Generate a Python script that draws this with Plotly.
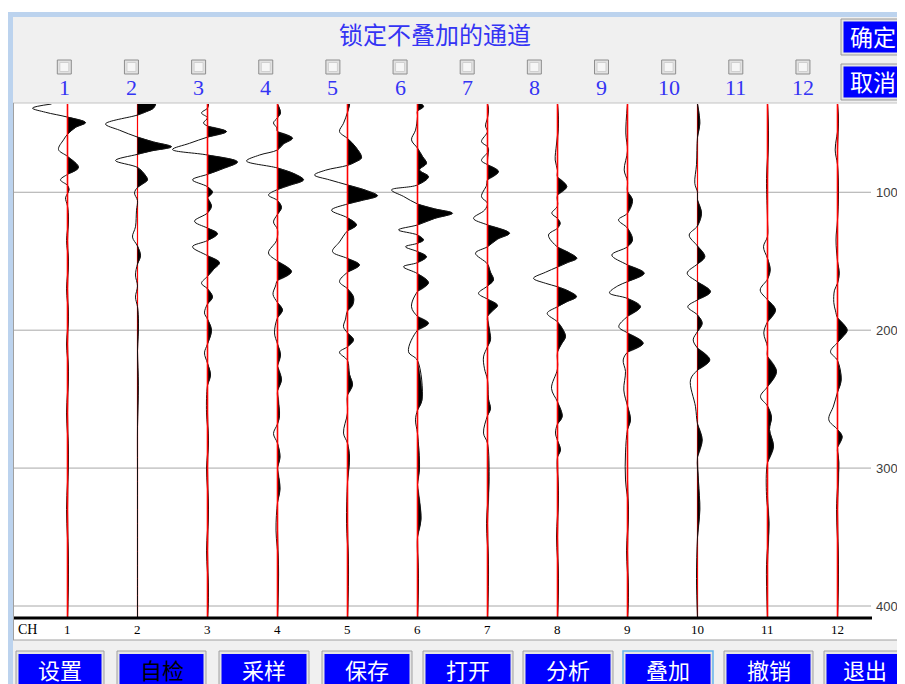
import plotly.graph_objects as go

# ---------------- data ----------------
channels = list(range(1, 13))
channel_labels = [str(c) for c in channels]
checkbox_labels = [str(c) for c in channels]
time_ticks = [100, 200, 300, 400]
title_text = "锁定不叠加的通道"
side_buttons = ["确定", "取消"]
bottom_buttons = ["设置", "自检", "采样", "保存", "打开", "分析", "叠加", "撤销", "退出"]

# time (ms) and amplitude (deflection units) key points per channel
ch1_t = [36, 39, 42, 45.5, 49.5, 53, 58, 62, 69, 74, 82, 87, 91, 95, 98, 101, 104, 110, 120, 135, 150, 170, 190, 210, 230, 260, 290, 330, 370, 409]
ch1_a = [-16, -35, -22, 0, 18, 8, 0, -4, -9, 0, 11, 0, -7, 0, 1.5, 0, -2, 0, 1, -1, 1, -1, 1, -1, 1, -1, 1, -1, 1, 0]

ch2_t = [36, 39, 41.5, 44, 50.5, 55, 60, 63.5, 67, 70, 72.5, 77, 82, 86, 91, 94, 96.5, 100.5, 106, 113, 125, 132.5, 139, 146, 152, 160, 168, 176, 183, 195, 215, 240, 270, 300, 340, 380, 409]
ch2_a = [18, 16, 9, 0, -32, -18, 0, 16, 34, 14, 0, -22, 0, 6, 10, 5, 0, -3, 0, -1, -2, -5, 0, 3, 0, -2, 0, -2, 0, 1, 0, 0.8, 0, 0, 0, 0, 0]

ch3_t = [36, 39, 42.5, 46, 49.7, 52, 56, 60, 64.5, 69, 73, 78, 83, 87, 91, 96, 100, 104, 110, 115, 121, 126, 130, 135, 139.5, 146, 151, 156, 161, 166, 170, 176, 181, 187.5, 192, 200, 210, 216.5, 224, 232.5, 240, 260, 280, 300, 330, 360, 390, 409]
ch3_a = [1, 0, -6, 0, -4, 0, 19, 0, -18, -35, 0, 30, 15, 0, -15, 0, 5, 0, 4, 0, -13, 0, 10, 0, -15, 0, 12, 6, 0, -6, 0, 5, 0, -3, 0, 4, 0, -3, 0, 3, 0, -1, 1, -1, 1, -1, 1, 0]

ch4_t = [36, 42.5, 46, 49.7, 53, 56, 60.8, 65, 69.3, 73, 77.3, 82.4, 87, 91, 95, 98, 102, 106, 111, 116, 121.5, 127, 135, 144, 150, 157.6, 164, 168, 174, 180, 185.4, 191, 202, 210, 218, 226, 236, 244, 262, 268, 275, 282, 292, 300, 315, 325, 345, 370, 409]
ch4_a = [0, 3, 0, -4, -1, 0, 15, 6, 0, -18, -31, 0, 18, 26, 12, 0, -9, 0, 4, 0, -4, 0, -1, -9, 0, 14, 0, -2, -4.5, 0, 5, 0, -3, 0, 3, 0, 4, 0, 2, 0, -4, 0, 2.5, 0, 2.5, 0, -1.5, 1, 0]

ch5_t = [36, 42, 50, 56, 61, 67, 75, 78, 80.5, 84, 87.5, 91, 94.7, 99, 102.5, 106, 108.5, 113, 118.5, 123.7, 128, 136, 143, 148, 152.7, 158, 164.8, 170, 176, 182, 186, 192, 197.5, 202, 207, 212, 216, 222, 232, 239.7, 247, 260, 274.6, 282, 292, 310, 340, 370, 409]
ch5_a = [2, 0, -4, -8, 0, 8, 14, 8, 0, -22, -33, -18, 0, 20, 30, 14, 0, -16, 0, 9, 0, -8, -15, 0, 12, 0, -8, 0, 6, 5, 0, -2, -4, 0, 6, 0, -8, 0, 2, 5, 0, 0, -4, 0, 2, 0, -1, 1, 0]

ch6_t = [36, 38, 41, 45, 55, 62, 68, 74, 79, 83.8, 88.7, 94.7, 98.3, 103, 108.5, 112, 115.2, 119, 123.7, 127.3, 131, 134.6, 137, 139.5, 143, 146.7, 151, 154, 159, 165.6, 172, 183, 190, 195, 200, 215.6, 222, 250.6, 258, 265, 275, 300, 312, 337, 350, 380, 409]
ch6_a = [4, 6, 0, 0, -2, -6, 0, 5, 9, 2, 11, 0, -26, -14, 0, 17, 35, 17, 0, -19, 0, 6, 0, -12, 0, 9, 0, -14, 0, 11, 0, -6, 0, 11, 0, -9, 0, 4.5, 0, -2, 0, 2, 0, 3.5, 0, 1, 0]

ch7_t = [36, 40, 46, 52, 56, 63.3, 67, 70, 77, 80, 85, 91, 95, 103.2, 108, 113, 118.9, 123.7, 129.7, 134, 139.5, 144.2, 152, 158, 163.6, 168, 173.3, 177.5, 182, 186, 190, 200, 207, 212, 219.4, 228, 236, 250, 257, 262, 274.6, 282, 310, 340, 370, 409]
ch7_a = [0, 1, 0, -2, 0, -6, 0, 1, -6, 0, 11, 0, -1, -6, 0, -3, -14, 0, 22, 10, 0, -12, 0, 3, 6, 0, -9, 0, 10, 5, 0, 2, 3, 0, -4, -3, 0, 1, 3, 0, -4, 0, 1.5, -1, 1, 0]

ch8_t = [36, 50, 65, 76.6, 84, 89, 95.9, 102, 110, 115.2, 119, 122.5, 126, 131, 139.7, 144, 147.9, 151, 154.2, 158, 162.4, 166, 168.5, 172, 175.7, 179.5, 183, 187.8, 194, 199, 204.7, 210, 215.8, 228, 242.2, 252, 262.7, 268, 274.6, 280, 286.9, 292, 320, 350, 380, 409]
ch8_a = [0, 1, -1, -2.3, 0, 0, 9.3, 0, 0, -5.7, 0, 2.7, 0, -9, 0, 12, 19.3, 10, 0, -12, -24, -12, 0, 12, 19, 9, 0, -10.3, 0, 5, 8, 4, 0, 0, -6, 0, 4.7, 0, -2, 0, 3, 0, 1, -1, 1, 0]

ch9_t = [36, 57, 70, 83.8, 92, 99.6, 105.6, 115.2, 120, 126, 134.6, 139.5, 145.5, 152.7, 158.7, 164.8, 168, 173, 177, 183, 190, 197.5, 202, 209.5, 216, 221.6, 230, 243.4, 255, 265.1, 272, 289, 308.6, 330, 360, 390, 409]
ch9_a = [0, -1.7, 0, -3.3, 0, 0, 5, 0, -9, 0, 5, 0, -15.7, 0, 16.7, 0, -10, -18, 0, 13, 0, -8.7, 0, 15.7, 0, -4.3, -2, -3.7, 0, 3, 0, -2, -2, 1, -1, 1, 0]

ch10_t = [36, 50, 60, 80, 93.5, 100, 105.6, 115.2, 124.4, 131, 139, 146.7, 152, 158.7, 165, 172.1, 178, 183, 189, 195, 201, 207, 213, 221.6, 229, 236, 255.5, 268, 279.6, 292, 310, 330, 350, 380, 409]
ch10_a = [0, 2.3, 0, -1, -2.7, 0, 0, 4, 0, -8.3, 0, 7.3, 0, -10.3, 0, 13, 0, -9.7, 0, 4.7, 0, -4.3, 0, 12.3, 0, -7, -2, 0, 4.7, 0, 1, 2.3, 0, -1, 0]

ch11_t = [36, 60, 90, 120, 132, 139.5, 148, 156.3, 163, 170.9, 178, 185.4, 194, 202, 212, 219, 230, 241, 248.2, 255, 263, 272, 284.5, 296, 320, 340, 370, 409]
ch11_a = [0, 1, -1, 0, 0, -4, 0, 2.7, 0, -7.3, 0, 8, 0, -3.7, 0, 0, 9, 0, -7, 0, 4, 2, 6, 0, -1, 1.5, -1, 0]

ch12_t = [36, 50, 69.3, 80, 100, 120, 134.6, 150, 158.7, 166, 171, 180, 186, 191, 199.9, 205, 209, 215.6, 222, 236, 245, 255, 265, 272, 277.2, 285, 296, 330, 370, 409]
ch12_a = [0, 1, -2.3, 0, 1, 0, -1.5, 0, 1.7, 0, -3, -3.7, -2, 0, 9.7, 5, 0, -7, 0, 3.7, 0, -4, -8.7, 0, 4.7, 0, 1.3, -1, 1, 0]

trace_times = [ch1_t, ch2_t, ch3_t, ch4_t, ch5_t, ch6_t, ch7_t, ch8_t, ch9_t, ch10_t, ch11_t, ch12_t]
trace_amps = [ch1_a, ch2_a, ch3_a, ch4_a, ch5_a, ch6_a, ch7_a, ch8_a, ch9_a, ch10_a, ch11_a, ch12_a]

# ---------------- geometry / style ----------------
# the page body has an 8px margin, so the figure is placed at (8, 8) in the window
OFF = 8
W, H = 905 - OFF, 684 - OFF
def px(x):
    return (x - OFF) / W
def py(y):
    return 1 - (y - OFF) / H

CH1_X = 67.5          # pixel-centred so the reference lines are crisp
CH_SPACING = 70.0
def ch_at(xp):
    return 1 + (xp - CH1_X) / CH_SPACING

T_TOP, T_BOTTOM = 36.0, 408.7
AMP_GAIN = 1 / 70.0
BLUE_TXT = "#3434F4"
BTN_BLUE = "#0000FF"
CJK = "Noto Sans CJK SC"
SERIF = "Liberation Serif"
RED = "#FF0000"
RED_UNDER = {2, 10}   # channels whose trace hides the reference line

fig = go.Figure()

def red_line(ch, width):
    fig.add_trace(go.Scatter(x=[ch, ch], y=[T_TOP, T_BOTTOM], mode="lines",
                             line=dict(color=RED, width=width),
                             hoverinfo="skip", showlegend=False))

for ch in channels:
    if ch in RED_UNDER:
        red_line(ch, 1.2)

# wiggle traces with positive lobes filled
for ch, tt, aa in zip(channels, trace_times, trace_amps):
    n = len(tt)
    fx, fy = [], []
    i = 0
    while i < n:
        if aa[i] > 0:
            j = i
            while j + 1 < n and aa[j + 1] > 0:
                j += 1
            idx = list(range(max(i - 1, 0), min(j + 1, n - 1) + 1))
            sx = [ch + AMP_GAIN * max(aa[k], 0) for k in idx]
            sy = [tt[k] for k in idx]
            if i == 0:
                sx.insert(0, ch); sy.insert(0, tt[0])
            if j == n - 1:
                sx.append(ch); sy.append(tt[-1])
            fx += sx + [None]
            fy += sy + [None]
            i = j + 1
        else:
            i += 1
    fig.add_trace(go.Scatter(x=fx, y=fy, mode="lines", fill="toself",
                             fillcolor="black",
                             line=dict(color="black", width=0.5, shape="spline"),
                             hoverinfo="skip", showlegend=False))
    fig.add_trace(go.Scatter(x=[ch + AMP_GAIN * a for a in aa], y=tt, mode="lines",
                             line=dict(color="#111111", width=1.0, shape="spline"),
                             hoverinfo="skip", showlegend=False))

for ch in channels:
    if ch not in RED_UNDER:
        red_line(ch, 1.6)

shapes = []
annotations = []

def rect(x0, y0, x1, y1, fill, line_color=None, lw=0, layer="below"):
    shapes.append(dict(type="rect", xref="paper", yref="paper",
                       x0=px(x0), x1=px(x1), y0=py(y1), y1=py(y0),
                       fillcolor=fill,
                       line=dict(color=line_color or fill, width=lw),
                       layer=layer))

def hline(x0, x1, y, color, lw=1, layer="below"):
    shapes.append(dict(type="line", xref="paper", yref="paper",
                       x0=px(x0), x1=px(x1), y0=py(y), y1=py(y),
                       line=dict(color=color, width=lw), layer=layer))

def vline(x, y0, y1, color, lw=1, layer="below"):
    shapes.append(dict(type="line", xref="paper", yref="paper",
                       x0=px(x), x1=px(x), y0=py(y0), y1=py(y1),
                       line=dict(color=color, width=lw), layer=layer))

def text(x, y, s, size, color, family, xanchor="center"):
    annotations.append(dict(x=px(x), y=py(y), xref="paper", yref="paper",
                            text=s, showarrow=False, xanchor=xanchor, yanchor="middle",
                            font=dict(size=size, color=color, family=family)))

# window frame and panels
rect(8, 12, 906, 686, "#BCD3EE")
rect(13, 17, 906, 686, "#F0F0F0")
rect(14, 103, 906, 640, "#FFFFFF")
hline(13, 906, 103, "#C4C4C4")
vline(13.5, 103, 640, "#A0A0A0")
hline(13, 906, 640, "#A0A0A0")

# time gridlines (data coords)
for tv in time_ticks:
    shapes.append(dict(type="line", xref="paper", yref="y",
                       x0=px(14), x1=px(871), y0=tv, y1=tv,
                       line=dict(color="#A8A8A8", width=1), layer="below"))
    annotations.append(dict(x=px(874), y=tv, xref="paper", yref="y", text=str(tv),
                            showarrow=False, xanchor="left", yanchor="middle",
                            font=dict(size=13, color="#3C3C3C", family="Liberation Sans")))

# thick bottom axis line
hline(14, 872, 618, "#000000", lw=3, layer="above")

# channel labels under the section
annotations.append(dict(x=px(16), y=py(629), xref="paper", yref="paper", text="CH",
                        showarrow=False, xanchor="left", yanchor="middle",
                        font=dict(size=14, color="#000000", family=SERIF)))
for ch, lab in zip(channels, channel_labels):
    annotations.append(dict(x=ch, y=py(629), xref="x", yref="paper", text=lab,
                            showarrow=False, xanchor="center", yanchor="middle",
                            font=dict(size=13, color="#000000", family=SERIF)))

# title
text(435, 34, title_text, 24, BLUE_TXT, CJK)

# checkboxes + numbers
for k, lab in enumerate(checkbox_labels):
    cx = 64.3 + 67.15 * k
    rect(cx - 7, 60, cx + 7, 74, "#E2E2E2", "#8E8E8E", 1)
    rect(cx - 4.5, 62.5, cx + 4.5, 71.5, "#F6F6F6", "#D0D0D0", 1)
    text(cx, 88, lab, 22, BLUE_TXT, SERIF)

# side buttons
for (y0, y1), lab in zip([(19, 55), (64, 100)], side_buttons):
    rect(841, y0, 906, y1, "#E4E4E4", "#9A9A9A", 1)
    rect(843.5, y0 + 2.5, 906, y1 - 2.5, BTN_BLUE)
    text(873, (y0 + y1) / 2 - 1, lab, 23, "#FFFFFF", CJK)

# bottom buttons
btn_x = [(16, 104), (117, 206), (219, 309), (322, 412), (423, 513),
         (523, 613), (623, 713), (724, 813), (824, 906)]
for (x0, x1), lab in zip(btn_x, bottom_buttons):
    border = "#64B4EC" if lab == "叠加" else "#A0A0A0"
    rect(x0, 651, x1, 690, "#E4E4E4", border, 1.5 if lab == "叠加" else 1)
    rect(x0 + 2.5, 654, x1 - 2.5, 690, BTN_BLUE)
    col = "#000000" if lab == "自检" else "#FFFFFF"
    text((x0 + x1) / 2, 669, lab, 22, col, CJK)

fig.update_layout(
    width=W, height=H,
    margin=dict(l=0, r=0, t=0, b=0),
    paper_bgcolor="#FFFFFF",
    plot_bgcolor="rgba(0,0,0,0)",
    showlegend=False,
    xaxis=dict(domain=[px(14), 1], range=[ch_at(14), ch_at(905)], visible=False, fixedrange=True),
    yaxis=dict(domain=[py(618), py(104)], range=[T_BOTTOM, T_TOP], visible=False, fixedrange=True),
    shapes=shapes,
    annotations=annotations,
)

fig.write_html("out.html")
